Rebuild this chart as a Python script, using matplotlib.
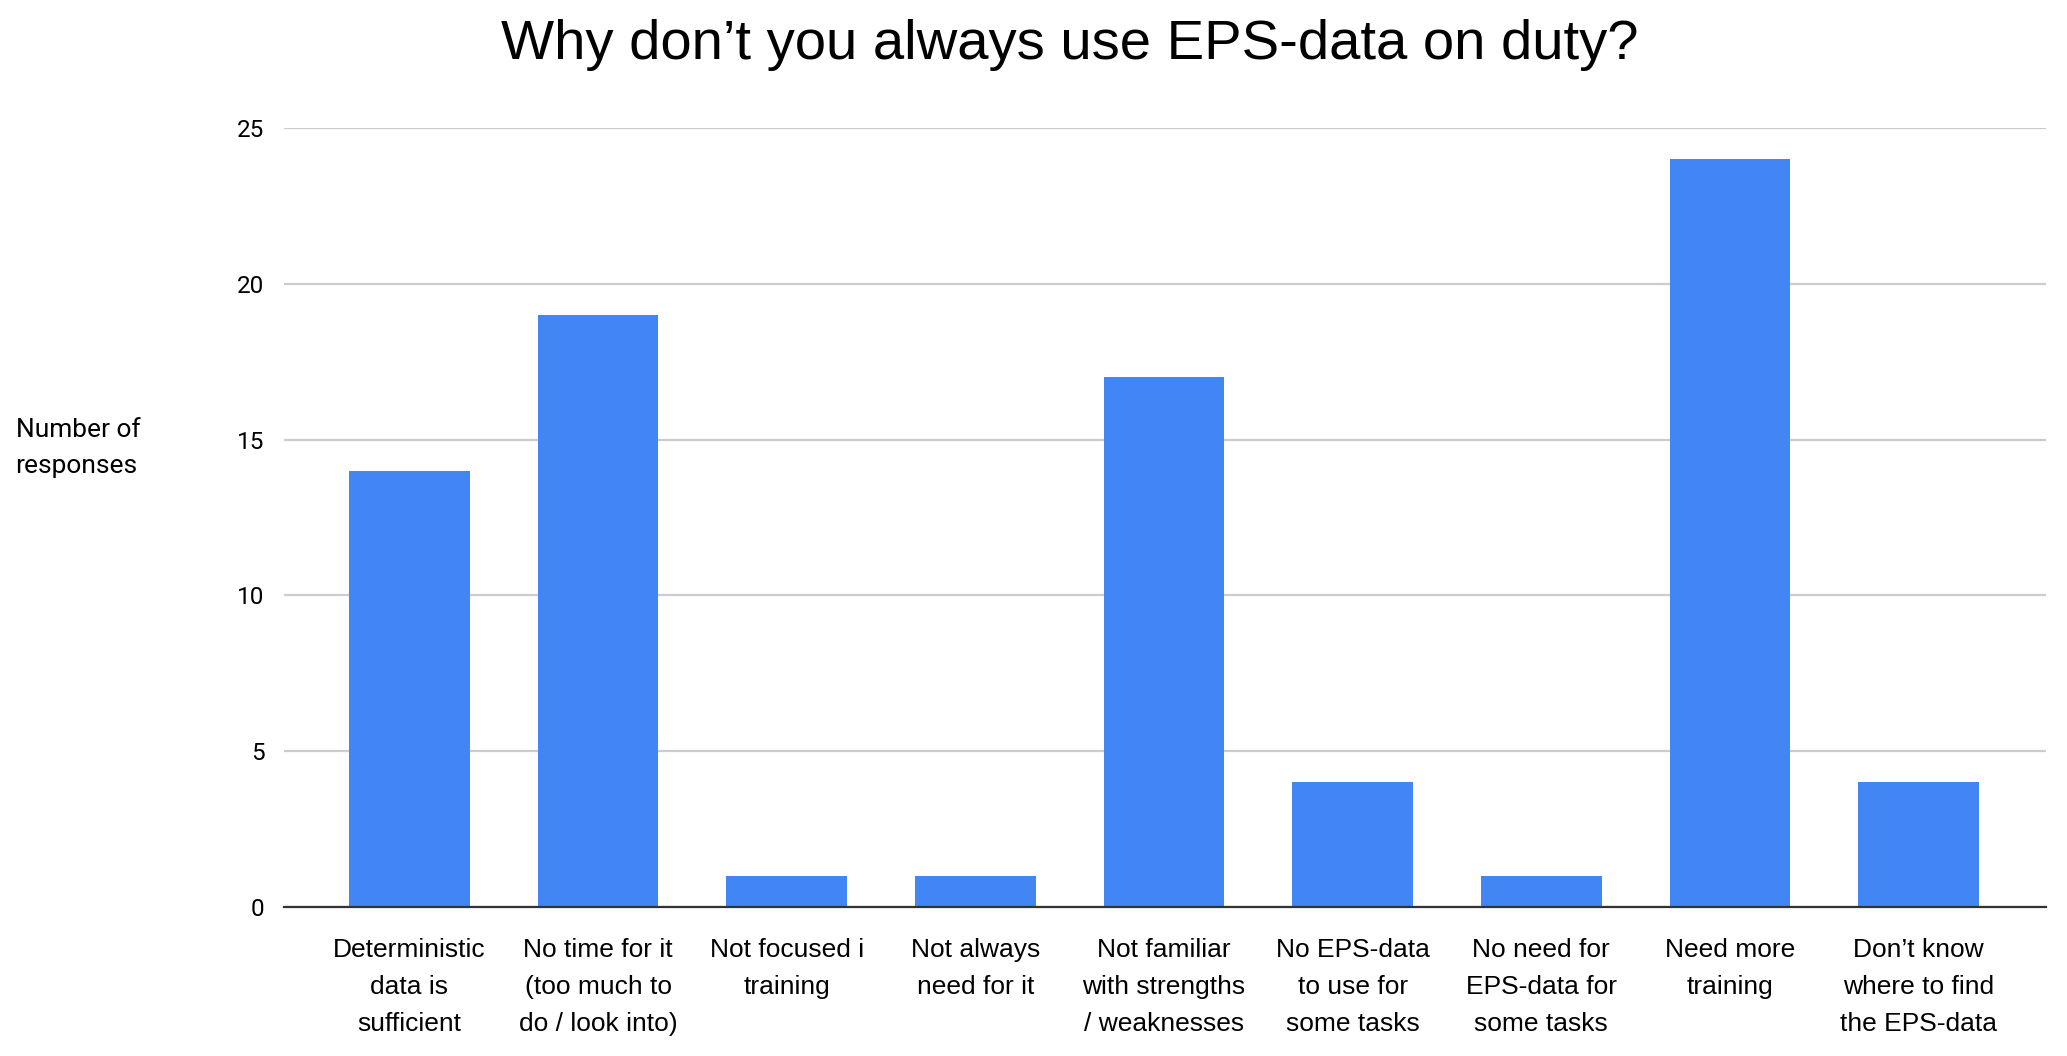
import matplotlib.pyplot as plt

categories = [
    "Deterministic\ndata is\nsufficient",
    "No time for it\n(too much to\ndo / look into)",
    "Not focused i\ntraining",
    "Not always\nneed for it",
    "Not familiar\nwith strengths\n/ weaknesses",
    "No EPS-data\nto use for\nsome tasks",
    "No need for\nEPS-data for\nsome tasks",
    "Need more\ntraining",
    "Don\u2019t know\nwhere to find\nthe EPS-data",
]
responses = [14, 19, 1, 1, 17, 4, 1, 24, 4]
y_ticks = [0, 5, 10, 15, 20, 25]

BAR_COLOR = "#4285F4"

fig = plt.figure(figsize=(20.67, 10.56), dpi=100)
ax = fig.add_axes([0.1374, 0.1411, 0.8524, 0.7377])

xs = list(range(len(categories)))
ax.bar(xs, responses, width=0.64, color=BAR_COLOR, zorder=3)

ax.set_xlim(-0.665, len(categories) - 1 + 0.675)
ax.set_ylim(0, 25)
ax.set_yticks(y_ticks)
ax.set_yticklabels([str(v) for v in y_ticks], fontfamily="Roboto", fontsize=17.5)
ax.set_xticks(xs)
ax.set_xticklabels(categories, fontfamily="Liberation Sans", fontsize=19,
                   linespacing=1.7, va="top")

ax.grid(axis="y", color="#cccccc", linewidth=1.6, zorder=0)
ax.tick_params(axis="y", length=0, pad=14)
ax.tick_params(axis="x", length=0, pad=22)
for side in ["top", "right", "left"]:
    ax.spines[side].set_visible(False)
ax.spines["bottom"].set_color("#333333")
ax.spines["bottom"].set_linewidth(1.6)
ax.spines["bottom"].set_zorder(4)

fig.text(0.5175, 0.957, "Why don\u2019t you always use EPS-data on duty?",
         ha="center", va="center", fontsize=40.5, fontfamily="Liberation Sans")
fig.text(0.0075, 0.576, "Number of\nresponses", ha="left", va="center",
         fontsize=19, fontfamily="Roboto", linespacing=1.65)

fig.savefig("out.png", dpi=100)
